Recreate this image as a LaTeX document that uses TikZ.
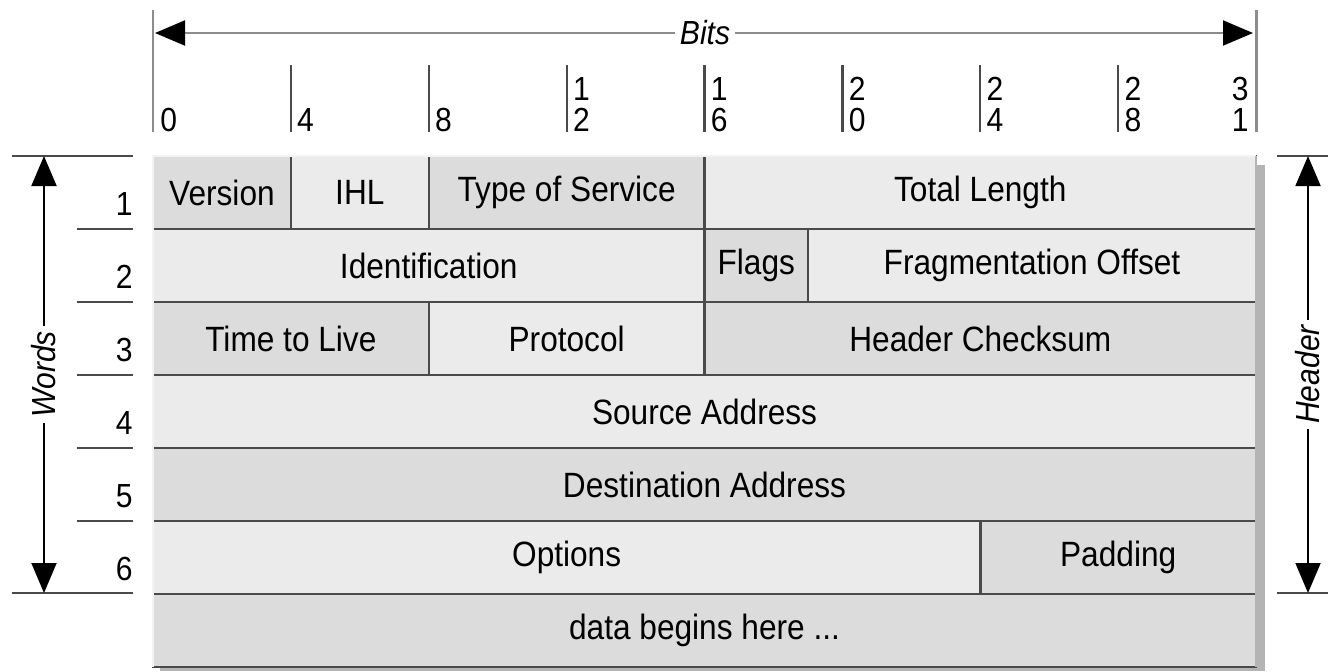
\documentclass[tikz,border=0pt]{standalone}
\usepackage{fontspec}
\setmainfont{Liberation Sans}[FakeStretch=0.9]
\usetikzlibrary{arrows.meta,positioning,calc}
\definecolor{fieldD}{HTML}{DCDCDC}
\definecolor{fieldL}{HTML}{EBEBEB}
\definecolor{lineG}{HTML}{4A4A4A}
\definecolor{ruleG}{HTML}{8C8C8C}
\definecolor{shadowG}{HTML}{B4B4B4}
\tikzset{
  field/.style={rectangle, draw=lineG, line width=1.4pt, fill=#1, inner sep=0pt, outer sep=0pt,
                anchor=north west, minimum height=1.46cm, font=\fontsize{20}{24}\selectfont},
  span/.style={minimum width=#1*0.6894cm},
  tick/.style={draw=lineG, line width=1.3pt},
  bitlbl/.style={inner sep=0pt, align=left, font=\fontsize{19}{17.6}\selectfont},
  rowlbl/.style={inner sep=0pt, anchor=east, font=\fontsize{19}{22}\selectfont},
  dim/.style={{Triangle[length=0.6cm,width=0.5cm,black]}-{Triangle[length=0.6cm,width=0.5cm,black]},
              line width=1.1pt, draw=black},
  side/.style={fill=white, inner sep=3pt, font=\fontsize{19}{22}\selectfont\itshape},
}

\begin{document}
\begin{tikzpicture}
  \useasboundingbox (0,0) rectangle (26.56,-13.42);
  % shadow behind the header
  \fill[shadowG] (3.2,-3.3) rectangle (25.3,-13.42);

  % row 1
  \node[field=fieldD, span=4] (ver) at (3.06,-3.12) {Version};
  \node[field=fieldL, span=4, right=0pt of ver] (ihl) {IHL};
  \node[field=fieldD, span=8, right=0pt of ihl] (tos) {Type of Service};
  \node[field=fieldL, span=16, right=0pt of tos] (totlen) {Total Length};
  % row 2
  \node[field=fieldL, span=16] (ident) at (ver.south west) {Identification};
  \node[field=fieldD, span=3, right=0pt of ident] (flags) {Flags};
  \node[field=fieldL, span=13, right=0pt of flags] (fragoff) {Fragmentation Offset};
  % row 3
  \node[field=fieldD, span=8] (ttl) at (ident.south west) {Time to Live};
  \node[field=fieldL, span=8, right=0pt of ttl] (proto) {Protocol};
  \node[field=fieldD, span=16, right=0pt of proto] (hcsum) {Header Checksum};
  % rows 4 to 7
  \node[field=fieldL, span=32] (src) at (ttl.south west) {Source Address};
  \node[field=fieldD, span=32] (dst) at (src.south west) {Destination Address};
  \node[field=fieldL, span=24] (opts) at (dst.south west) {Options};
  \node[field=fieldD, span=8, right=0pt of opts] (pad) {Padding};
  \node[field=fieldD, span=32] (data) at (opts.south west) {data begins here ...};

  % light outer edges
  \draw[fieldL!60!white, line width=1.4pt] (data.south west) -- (ver.north west) -- (totlen.north east);
  \draw[shadowG, line width=1.4pt] (totlen.north east) -- (data.south east);

  % bit ruler
  \draw[ruleG, line width=1.7pt] (3.06,-0.2) coordinate (b0top) -- (3.06,-2.64) coordinate (b0);
  \draw[ruleG, line width=1.7pt] (25.12,-0.2) coordinate (b32top) -- (25.12,-2.64) coordinate (b32);
  \foreach \b in {4,8,...,28}
    \draw[tick] ({3.06+\b*0.6894},-1.3) -- ({3.06+\b*0.6894},-2.64) coordinate (b\b);
  \node[bitlbl, anchor=south west] (l0) at ($(b0)+(0.14,0)$) {0};
  \node[bitlbl, anchor=south west] (l4) at ($(b4)+(0.12,0)$) {4};
  \node[bitlbl, anchor=south west] (l8) at ($(b8)+(0.12,0)$) {8};
  \node[bitlbl, anchor=south west] (l12) at ($(b12)+(0.12,0)$) {1\\2};
  \node[bitlbl, anchor=south west] (l16) at ($(b16)+(0.12,0)$) {1\\6};
  \node[bitlbl, anchor=south west] (l20) at ($(b20)+(0.12,0)$) {2\\0};
  \node[bitlbl, anchor=south west] (l24) at ($(b24)+(0.12,0)$) {2\\4};
  \node[bitlbl, anchor=south west] (l28) at ($(b28)+(0.12,0)$) {2\\8};
  \node[bitlbl, anchor=south east] (l31) at ($(b32)+(-0.14,0)$) {3\\1};
  \coordinate (bitsL) at (3.1,-0.66);
  \coordinate (bitsR) at (25.06,-0.66);
  \draw[dim, draw=ruleG] (bitsL) -- (bitsR);
  \node[side] (bits) at (14.1,-0.66) {Bits};

  % words side
  \draw[lineG, line width=1.3pt] (0.24,-3.12) -- (2.66,-3.12);
  \draw[lineG, line width=1.3pt] (0.24,-11.86) -- (2.66,-11.86);
  \foreach \i in {1,...,5}
    \draw[lineG, line width=1.3pt] (1.54,{-3.12-\i*1.46}) -- (2.66,{-3.12-\i*1.46});
  \foreach \i in {1,...,6}
    \node[rowlbl] (w\i) at (2.66,{-3.12-\i*1.46+0.5}) {\i};
  \coordinate (wordsT) at (0.88,-3.12);
  \coordinate (wordsB) at (0.88,-11.86);
  \draw[dim] (wordsT) -- (wordsB);
  \node[side, rotate=90] (words) at (0.88,-7.49) {Words};

  % header side
  \draw[lineG, line width=1.3pt] (25.54,-3.12) -- (26.56,-3.12);
  \draw[lineG, line width=1.3pt] (25.54,-11.86) -- (26.56,-11.86);
  \coordinate (hdrT) at (26.16,-3.12);
  \coordinate (hdrB) at (26.16,-11.86);
  \draw[dim] (hdrT) -- (hdrB);
  \node[side, rotate=90] (hdr) at (26.16,-7.49) {Header};
\end{tikzpicture}
\end{document}
